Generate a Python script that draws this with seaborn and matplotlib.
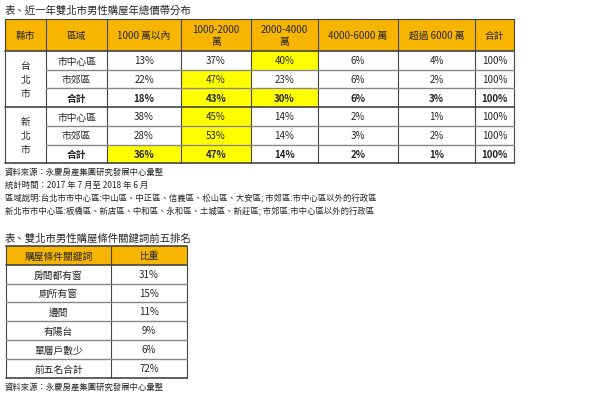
import matplotlib.pyplot as plt
import seaborn as sns

sns.set_theme(style="white", font="Noto Sans CJK TC")

# Table 1 data
headers = ["縣市", "區域", "1000 萬以內", "1000-2000\n萬", "2000-4000\n萬", "4000-6000 萬", "超過 6000 萬", "合計"]
cities = ["台\n北\n市", "新\n北\n市"]
areas = ["市中心區", "市郊區", "合計", "市中心區", "市郊區", "合計"]
under_1000 = [13, 22, 18, 38, 28, 36]
b1000_2000 = [37, 47, 43, 45, 53, 47]
b2000_4000 = [40, 23, 30, 14, 14, 14]
b4000_6000 = [6, 6, 6, 2, 3, 2]
over_6000 = [4, 2, 3, 1, 2, 1]
total = [100, 100, 100, 100, 100, 100]
# highlighted (row, value column) cells
highlight = [(0, 2), (1, 1), (2, 1), (2, 2), (3, 1), (4, 1), (5, 0), (5, 1)]

notes = ["資料來源：永慶房產集團研究發展中心彙整",
         "統計時間：2017 年 7 月至 2018 年 6 月",
         "區域說明:台北市市中心區:中山區、中正區、信義區、松山區、大安區; 市郊區:市中心區以外的行政區",
         "新北市市中心區:板橋區、新店區、中和區、永和區、土城區、新莊區; 市郊區:市中心區以外的行政區"]

# Table 2 data
keywords = ["房間都有窗", "廁所有窗", "邊間", "有陽台", "單層戶數少", "前五名合計"]
shares = [31, 15, 11, 9, 6, 72]

ORANGE = "#F7B500"
YELLOW = "#FFFF00"
fs = 7

fig = plt.figure(figsize=(6, 4.02), dpi=100)
ax = fig.add_axes([0, 0, 1, 1])
ax.set_xlim(0, 600)
ax.set_ylim(402, 0)
ax.axis("off")

def cell(x0, x1, y0, y1, color):
    ax.fill([x0, x1, x1, x0], [y0, y0, y1, y1], color=color, lw=0, zorder=1)

def hline(y, x0, x1, lw=0.8, c="#444444"):
    ax.plot([x0, x1], [y, y], color=c, lw=lw, zorder=3)

def vline(x, y0, y1, lw=0.8, c="#444444"):
    ax.plot([x, x], [y0, y1], color=c, lw=lw, zorder=3)

# ---- table 1
ax.text(5, 11, "表、近一年雙北市男性購屋年總價帶分布", fontsize=7.5, va="center")
xs = [5, 46, 107, 181, 251, 318, 398, 475, 514]
ys = [20, 52, 71, 89, 108, 127, 146, 164]
cell(xs[0], xs[-1], ys[0], ys[1], ORANGE)
for r, c in highlight:
    cell(xs[c + 2], xs[c + 3], ys[r + 1], ys[r + 2], YELLOW)
for i, h in enumerate(headers):
    ax.text((xs[i] + xs[i + 1]) / 2, (ys[0] + ys[1]) / 2, h, fontsize=fs,
            ha="center", va="center", linespacing=1.3)
for g, name in enumerate(cities):
    ax.text((xs[0] + xs[1]) / 2, (ys[1 + 3 * g] + ys[4 + 3 * g]) / 2, name,
            fontsize=fs, ha="center", va="center", linespacing=1.5)
cols = [under_1000, b1000_2000, b2000_4000, b4000_6000, over_6000, total]
for r in range(6):
    bold = "bold" if areas[r] == "合計" else "normal"
    yc = (ys[r + 1] + ys[r + 2]) / 2
    ax.text((xs[1] + xs[2]) / 2, yc, areas[r], fontsize=fs, ha="center", va="center", weight=bold)
    for c, vals in enumerate(cols):
        ax.text((xs[c + 2] + xs[c + 3]) / 2, yc, f"{vals[r]}%", fontsize=fs,
                ha="center", va="center", weight=bold)
for x in xs:
    vline(x, ys[0], ys[-1])
hline(ys[0], xs[0], xs[-1]); hline(ys[-1], xs[0], xs[-1], 1.2)
hline(ys[1], xs[0], xs[-1], 1.2); hline(ys[4], xs[0], xs[-1], 1.2)
for k in [2, 3, 5, 6]:
    hline(ys[k], xs[1], xs[-1], 1.0, "#888888")
for i, n in enumerate(notes):
    ax.text(5, 172 + 13.4 * i, n, fontsize=6, va="center")

# ---- table 2
ax.text(5, 239, "表、雙北市男性購屋條件關鍵詞前五排名", fontsize=7.5, va="center")
x2 = [6, 111, 187]
y2 = [247, 266, 285, 303, 322, 341, 360, 379]
cell(x2[0], x2[-1], y2[0], y2[1], ORANGE)
ax.text((x2[0] + x2[1]) / 2, (y2[0] + y2[1]) / 2, "購屋條件關鍵詞", fontsize=fs, ha="center", va="center")
ax.text((x2[1] + x2[2]) / 2, (y2[0] + y2[1]) / 2, "比重", fontsize=fs, ha="center", va="center")
for r, (k, s) in enumerate(zip(keywords, shares)):
    yc = (y2[r + 1] + y2[r + 2]) / 2
    ax.text((x2[0] + x2[1]) / 2, yc, k, fontsize=fs, ha="center", va="center")
    ax.text((x2[1] + x2[2]) / 2, yc, f"{s}%", fontsize=fs, ha="center", va="center")
for x in x2:
    vline(x, y2[0], y2[-1])
for k, y in enumerate(y2):
    hline(y, x2[0], x2[-1], 1.2 if k in (0, 1, len(y2) - 1) else 1.0,
          "#444444" if k in (0, 1, len(y2) - 1) else "#888888")
ax.text(5, 387, "資料來源：永慶房產集團研究發展中心彙整", fontsize=6, va="center")

fig.savefig("out.png", dpi=100)
